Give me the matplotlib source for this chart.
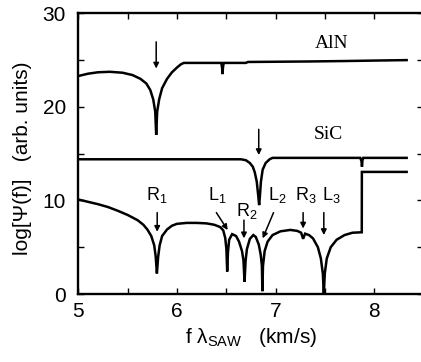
import matplotlib
matplotlib.use("Agg")
import matplotlib.pyplot as plt
from matplotlib.ticker import MultipleLocator

plt.rcParams['font.family'] = ['Liberation Sans', 'DejaVu Sans']
plt.rcParams['mathtext.fontset'] = 'custom'
plt.rcParams['mathtext.rm'] = 'Liberation Sans'
plt.rcParams['mathtext.it'] = 'Liberation Sans:italic'
plt.rcParams['mathtext.default'] = 'regular'

# ---- data ----
aln_x = [5.00, 5.10, 5.20, 5.32, 5.45, 5.55, 5.63, 5.69, 5.73, 5.76, 5.78, 5.79,
         5.80, 5.82, 5.85, 5.90, 5.95, 6.00, 6.04, 6.07, 6.45, 6.458, 6.462,
         6.468, 6.475, 6.70, 6.72, 7.30, 7.70, 8.00, 8.33]
aln_y = [23.3, 23.55, 23.7, 23.75, 23.65, 23.4, 23.0, 22.5, 21.8, 20.8, 19.5, 17.0,
         19.5, 20.8, 22.0, 23.0, 23.7, 24.2, 24.55, 24.7, 24.7, 24.2, 23.5,
         24.3, 24.7, 24.7, 24.8, 24.85, 24.9, 24.95, 25.0]

sic_x = [5.00, 6.65, 6.70, 6.74, 6.77, 6.79, 6.81, 6.825, 6.834, 6.842, 6.852,
         6.87, 6.90, 6.94, 6.97, 7.86, 7.872, 7.877, 7.882, 7.89, 8.33]
sic_y = [14.4, 14.4, 14.3, 14.0, 13.6, 13.0, 12.0, 10.5, 9.5, 10.5, 12.0,
         13.3, 14.0, 14.4, 14.55, 14.55, 14.2, 13.6, 14.3, 14.55, 14.55]

lay_x = [5.00, 5.10, 5.20, 5.30, 5.40, 5.50, 5.60, 5.66, 5.70, 5.74, 5.77, 5.785,
         5.797, 5.81, 5.825, 5.85, 5.90, 5.95, 6.00, 6.10, 6.20, 6.30, 6.38,
         6.44, 6.47, 6.49, 6.502, 6.51, 6.518, 6.53, 6.56, 6.60, 6.63, 6.66,
         6.675, 6.686, 6.697, 6.71, 6.74, 6.775, 6.80, 6.83, 6.85, 6.862,
         6.867, 6.873, 6.89, 6.92, 6.97, 7.05, 7.15, 7.22, 7.26, 7.28, 7.30,
         7.34, 7.38, 7.43, 7.46, 7.48, 7.49, 7.50, 7.52, 7.56, 7.62, 7.70,
         7.78, 7.875, 7.876, 8.33]
lay_y = [10.1, 9.85, 9.6, 9.3, 8.9, 8.45, 7.9, 7.4, 6.9, 6.2, 5.2, 4.0,
         2.2, 4.0, 5.2, 6.2, 6.9, 7.3, 7.5, 7.6, 7.6, 7.55, 7.4,
         7.15, 6.8, 6.0, 4.8, 2.4, 4.5, 5.8, 6.4, 6.2, 5.6, 4.6,
         3.6, 1.3, 3.6, 4.8, 5.9, 6.3, 6.1, 5.3, 4.2, 3.0,
         0.3, 3.0, 4.6, 5.6, 6.3, 6.7, 6.85, 6.75, 6.55, 5.9, 6.45,
         6.3, 5.95, 5.0, 3.8, 2.2, 0.0, 2.2, 3.8, 5.0, 5.8, 6.3,
         6.55, 6.6, 13.05, 13.05]

# arrows: (x_tail, y_tail, x_head, y_head)
arrows = [(5.79, 26.95, 5.79, 24.1),
          (6.83, 17.6, 6.83, 14.85),
          (5.80, 8.7, 5.80, 6.65),
          (6.40, 8.7, 6.515, 6.84),
          (6.68, 7.9, 6.68, 5.95),
          (6.98, 8.7, 6.87, 5.95),
          (7.28, 8.7, 7.28, 7.0),
          (7.49, 8.7, 7.49, 6.3)]

peak_labels = ['R$_1$', 'L$_1$', 'R$_2$', 'L$_2$', 'R$_3$', 'L$_3$']
peak_label_x = [5.80, 6.41, 6.71, 7.02, 7.31, 7.57]
peak_label_y = [10.0, 10.0, 8.3, 10.0, 10.0, 10.0]

fig = plt.figure(figsize=(4.21, 3.62), dpi=100)
ax = fig.add_axes([0.186, 0.1878, 0.8197, 0.7754])

lw = 1.8
ax.plot(aln_x, aln_y, color='black', lw=lw, solid_joinstyle='miter')
ax.plot(sic_x, sic_y, color='black', lw=lw, solid_joinstyle='miter')
ax.plot(lay_x, lay_y, color='black', lw=lw, solid_joinstyle='miter')

for (x0, y0, x1, y1) in arrows:
    ax.annotate('', xy=(x1, y1), xytext=(x0, y0),
                arrowprops=dict(arrowstyle='-|>', color='black', lw=1.1,
                                mutation_scale=8, shrinkA=0, shrinkB=0))

for lab, x, y in zip(peak_labels, peak_label_x, peak_label_y):
    ax.text(x, y, lab, ha='center', va='baseline', fontsize=13)

ax.text(7.57, 26.8, 'AlN', ha='center', va='center', fontsize=14,
        family=['Liberation Serif'])
ax.text(7.54, 17.0, 'SiC', ha='center', va='center', fontsize=14,
        family=['Liberation Serif'])

ax.set_xlim(5, 8.5)
ax.set_ylim(0, 30)
ax.xaxis.set_major_locator(MultipleLocator(1))
ax.xaxis.set_minor_locator(MultipleLocator(0.5))
ax.yaxis.set_major_locator(MultipleLocator(10))
ax.yaxis.set_minor_locator(MultipleLocator(5))
ax.tick_params(which='both', direction='in', top=True, right=True,
               length=4, width=1.0)
ax.tick_params(axis='x', labelsize=15, pad=6)
ax.tick_params(axis='y', labelsize=15, pad=9)
for s in ax.spines.values():
    s.set_linewidth(1.7)

ax.set_xlabel('f λ$_{SAW}$   (km/s)', fontsize=15, labelpad=3)
ax.set_ylabel('log[Ψ(f)]   (arb. units)', fontsize=15, labelpad=3)
ax.yaxis.set_label_coords(-0.133, 0.485)

fig.savefig('out.png', dpi=100)
